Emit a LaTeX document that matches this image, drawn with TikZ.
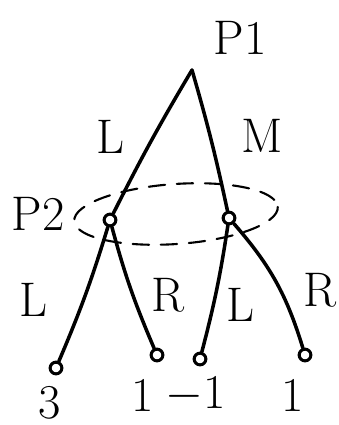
\documentclass[tikz,border=0pt]{standalone}
\usetikzlibrary{arrows.meta,positioning}
\begin{document}
\begin{tikzpicture}[x=0.015cm,y=-0.015cm,line width=1.5pt,line cap=round,
  knot/.style={circle,draw,line width=1.3pt,inner sep=0pt,minimum size=5pt},
  lbl/.style={font=\huge}]
  \useasboundingbox (0,0) rectangle (338,425);
  % Spieler 1 an der Wurzel
  \coordinate (root) at (192,70);
  \node[lbl] (p1) at (240,38) {P1};
  \node[knot] (n1) at (110,220) {};
  \node[knot] (n2) at (229,218) {};
  \draw (root) to[bend right=2] (n1);
  \draw (root) to[bend left=2] (n2);
  \node[lbl] (l1) at (110,137) {L};
  \node[lbl] (m1) at (262,136) {M};
  % Informationsmenge von Spieler 2
  \draw[line width=0.9pt,dash pattern=on 7pt off 5pt] (176,214) ellipse[x radius=102,y radius=30,rotate=4];
  \node[lbl] (p2) at (38,214) {P2};
  % Endknoten mit Auszahlungen
  \foreach \k/\x/\y/\u/\v/\w in {z1/56/368/50/403/3, z2/157/355/143/395/1,
                                 z3/200/359/196/395/$-1$, z4/305/355/293/395/1}{
    \node[knot] (\k) at (\x,\y) {};
    \node[lbl] (\k w) at (\u,\v) {\w};}
  \draw (n1) to[bend left=3] (z1);
  \draw (n1) to[bend right=4] (z2);
  \draw (n2) to[bend left=3] (z3);
  \draw (n2) to[bend left=12] (z4);
  \node[lbl] (l2) at (33,300) {L};
  \node[lbl] (r2) at (168,295) {R};
  \node[lbl] (l3) at (240,305) {L};
  \node[lbl] (r3) at (320,290) {R};
\end{tikzpicture}
\end{document}
